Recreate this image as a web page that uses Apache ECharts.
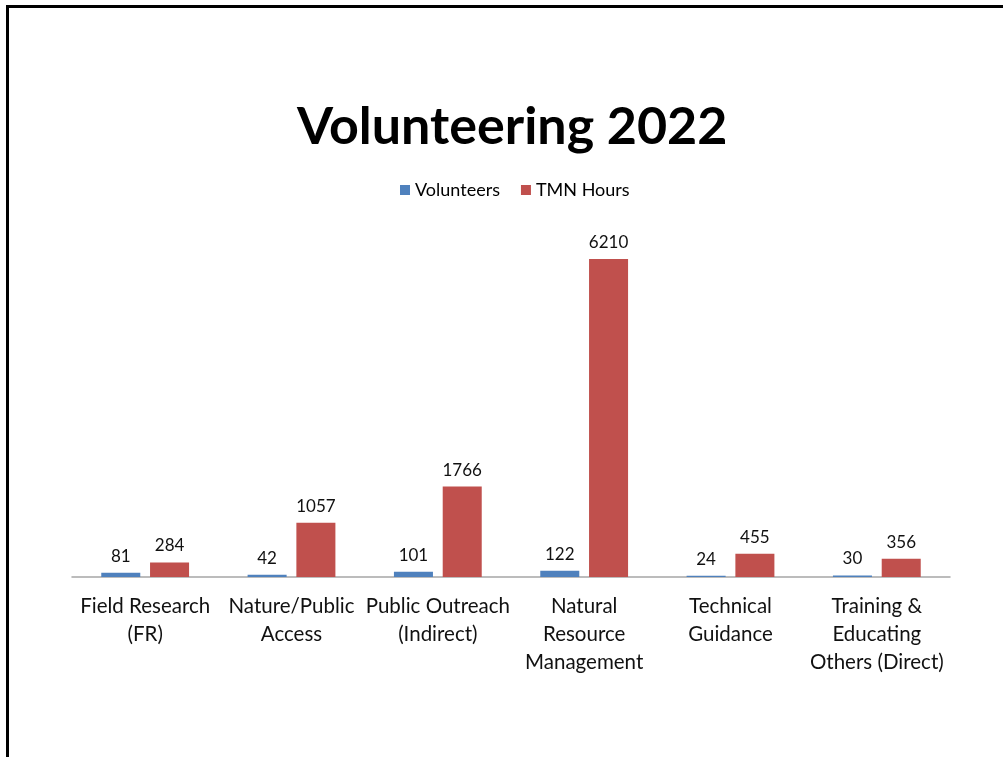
<!DOCTYPE html>
<html>
<head>
<meta charset="utf-8">
<script src="https://cdn.jsdelivr.net/npm/echarts@6/dist/echarts.min.js"></script>
<style>
  html, body { margin: 0; padding: 0; background: #fff; }
  #chart { width: 1003px; height: 757px; }
</style>
</head>
<body>
<div id="chart"></div>
<script>
// Volunteering activity by category, 2022
const categories = [
  'Field Research\n(FR)',
  'Nature/Public\nAccess',
  'Public Outreach\n(Indirect)',
  'Natural\nResource\nManagement',
  'Technical\nGuidance',
  'Training &\nEducating\nOthers (Direct)'
];
const volunteers = [81, 42, 101, 122, 24, 30];
const tmnHours = [284, 1057, 1766, 6210, 455, 356];

const FONT = 'Lato, "Open Sans", sans-serif';

const chart = echarts.init(document.getElementById('chart'), null, { renderer: 'canvas' });
chart.setOption({
  backgroundColor: '#ffffff',
  animation: false,
  title: {
    text: 'Volunteering 2022',
    left: 292,
    top: 96,
    padding: 5,
    textStyle: { fontFamily: FONT, fontSize: 52, fontWeight: 'bold', color: '#000' }
  },
  legend: {
    top: 176,
    left: 395,
    itemWidth: 10,
    itemHeight: 10,
    itemGap: 21,
    icon: 'rect',
    textStyle: { fontFamily: FONT, fontSize: 18, color: '#000' },
    data: ['Volunteers', 'TMN Hours']
  },
  grid: { left: 72, right: 53, top: 218.5, bottom: 180, containLabel: false },
  xAxis: {
    type: 'category',
    data: categories,
    axisTick: { show: false },
    axisLine: { lineStyle: { color: '#a6a6a6', width: 1.5 } },
    axisLabel: {
      interval: 0,
      margin: 15,
      fontFamily: FONT,
      fontSize: 20.5,
      lineHeight: 28,
      color: '#111'
    }
  },
  yAxis: {
    type: 'value',
    min: 0,
    max: 7000,
    show: false,
    splitLine: { show: false }
  },
  series: [
    {
      name: 'Volunteers',
      type: 'bar',
      data: volunteers,
      barGap: '25%',
      barCategoryGap: '40%',
      itemStyle: { color: '#4f81bd' },
      label: { show: true, position: 'top', distance: 8, fontFamily: FONT, fontSize: 17, color: '#111' }
    },
    {
      name: 'TMN Hours',
      type: 'bar',
      data: tmnHours,
      barGap: '25%',
      barCategoryGap: '40%',
      itemStyle: { color: '#c0504d' },
      label: { show: true, position: 'top', distance: 8, fontFamily: FONT, fontSize: 17, color: '#111' }
    }
  ],
  graphic: [
    { type: 'line', shape: { x1: 6, y1: 6.5, x2: 1003, y2: 6.5 }, style: { stroke: '#000', lineWidth: 3 } },
    { type: 'line', shape: { x1: 7.5, y1: 5, x2: 7.5, y2: 757 }, style: { stroke: '#000', lineWidth: 3 } }
  ]
});
</script>
</body>
</html>
